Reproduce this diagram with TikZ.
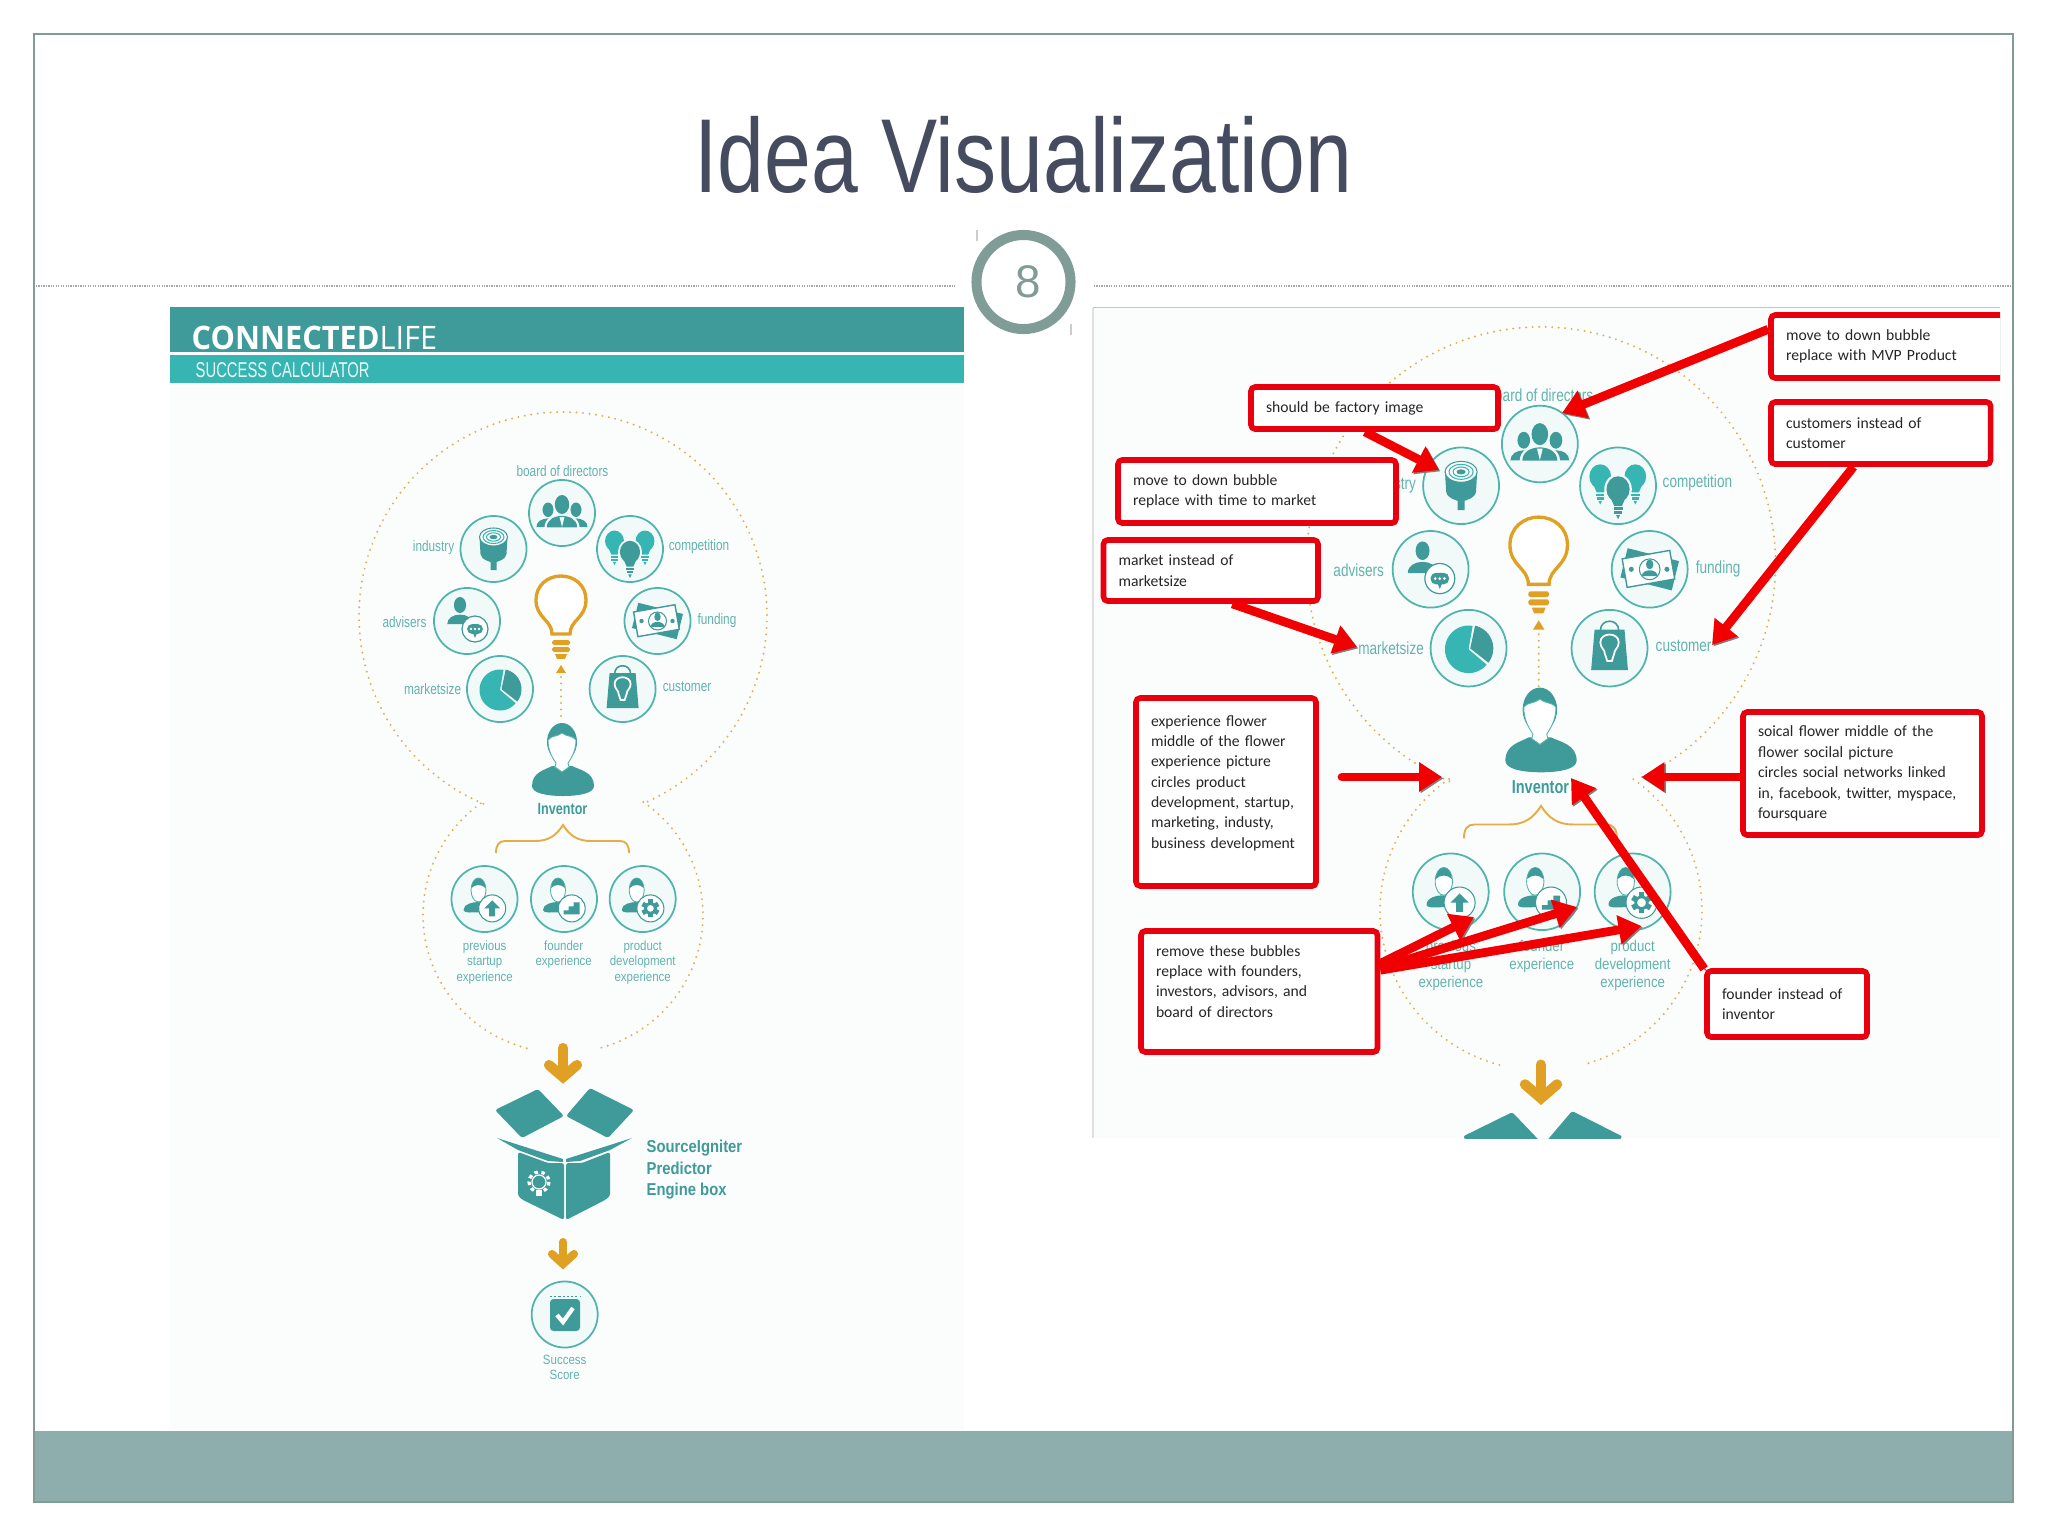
\documentclass[tikz,border=0pt]{standalone}
\usepackage{fontspec}
\setmainfont{Liberation Sans}
\newfontfamily\titlef[FakeStretch=0.8]{Liberation Sans}
\newfontfamily\labf[FakeStretch=0.78]{Liberation Sans}
\newfontfamily\lowf[FakeStretch=0.86]{Liberation Sans}
\newfontfamily\subf[FakeStretch=0.69]{Liberation Sans}
\newfontfamily\brandf[FakeStretch=0.95]{Open Sans}
\newfontfamily\callf{Carlito}
\usetikzlibrary{arrows.meta,shadows}
\definecolor{frameC}{HTML}{7F9C96}
\definecolor{bandC}{HTML}{8EADAD}
\definecolor{titleC}{HTML}{464C60}
\definecolor{tealD}{HTML}{3F9A9A}
\definecolor{tealM}{HTML}{36B5B2}
\definecolor{ringC}{HTML}{4FB5AB}
\definecolor{haloC}{HTML}{F2FAF9}
\definecolor{labC}{HTML}{62B3AD}
\definecolor{orangeC}{HTML}{E0A024}
\definecolor{dotC}{HTML}{D9B350}
\definecolor{panelC}{HTML}{FBFDFD}
\definecolor{redC}{HTML}{E8000E}
\definecolor{arrowC}{HTML}{F00000}
\tikzset{
  ring/.style={circle,draw=ringC,line width=.5pt,fill=haloC,minimum size=.66cm,inner sep=0pt},
  lab/.style={font=\labf\fontsize{4.3}{5.2}\selectfont,text=labC,inner sep=0pt},
  lowlab/.style={font=\lowf\fontsize{3.8}{4.4}\selectfont,text=labC,inner sep=0pt,align=center},
  dotline/.style={draw=dotC,dash pattern=on 0pt off 1.85pt,line cap=round,line width=.62pt},
  callout/.style={draw=redC,line width=1.6pt,rounded corners=1.2pt,fill=white,align=left,inner ysep=0pt,inner xsep=.15cm,
    text=black!85,font=\callf\fontsize{4.45}{5.8}\selectfont,
    drop shadow={shadow xshift=.5pt,shadow yshift=-.7pt,opacity=.6,fill=black}},
  redarrow/.style={draw=arrowC,line width=2.5pt,-{Triangle[length=6.5pt,width=8pt]},
    preaction={draw=black!50,transform canvas={xshift=.4pt,yshift=-.4pt}}},
}
\newcommand\icBust[4]{%
 \begin{scope}[shift={(#2,#3)},scale=#4]
  \fill[#1] (0,-5) ellipse (3.8 and 5);
  \fill[#1] (-8,7) .. controls (-8,3) and (-4,1) .. (0,1) .. controls (4,1) and (8,3) .. (8,7) -- cycle;
 \end{scope}}
\newcommand\icBulb[4]{%
 \begin{scope}[shift={(#2,#3)},scale=#4]
  \fill[#1] (0,0) ellipse (9 and 10);
  \fill[#1] (-6,6) -- (-3,13) -- (3,13) -- (6,6) -- cycle;
  \fill[#1] (-3.5,14) rectangle (3.5,16);
  \fill[#1] (-3,17) rectangle (3,19);
  \fill[#1] (-1.5,20) -- (1.5,20) -- (0,23) -- cycle;
 \end{scope}}
\newcommand\icExp[4]{%
 \node[ring] (#1) at (#2,#3) {};
 \begin{scope}[shift={(#2,#3)}]
  \fill[tealD] (-21,11) .. controls (-21,5) and (-12,3) .. (-6,3) .. controls (0,3) and (4,6) .. (4,13) -- (-15,13.5) .. controls (-18,13.5) and (-21,13) .. (-21,11) -- cycle;
  \draw[ringC,line width=.25pt,fill=white] (-6,-9) ellipse (7.5 and 12);
  \fill[tealD] (-13,-11) .. controls (-12,-24) and (0,-24) .. (1,-11) .. controls (-3,-15) and (-9,-15) .. (-13,-11) -- cycle;
  \draw[tealD,line width=.3pt,fill=white] (7.7,9.4) circle (13.5);
  \begin{scope}[shift={(7.7,9.4)}] #4 \end{scope}
 \end{scope}}
\newcommand\infog{%
 % dotted flower
 \draw[dotline] plot[domain=113:426,samples=120] ({563+204*cos(\x)},{616+204*sin(\x)});
 \draw[dotline] plot[domain=-55:75,samples=50] ({563+140*cos(\x)},{915+138*sin(\x)});
 \draw[dotline] plot[domain=105:236,samples=50] ({563+140*cos(\x)},{915+138*sin(\x)});
 % rings
 \node[ring] (board) at (562,513) {};
 \node[ring] (industry) at (493.5,549) {};
 \node[ring] (competition) at (630,549) {};
 \node[ring] (advisers) at (467,621) {};
 \node[ring] (funding) at (657.5,621) {};
 \node[ring] (marketsize) at (500,689) {};
 \node[ring] (customer) at (622.6,689) {};
 % board
 \icBust{tealD}{548}{517}{1.45}
 \icBust{tealD}{576}{517}{1.45}
 \begin{scope}[shift={(562,514)},scale=2]
  \fill[haloC] (0,-5) ellipse (4.5 and 5.6);
  \fill[haloC] (-8.8,7) .. controls (-8.8,2) and (-4,0) .. (0,0) .. controls (4,0) and (8.8,2) .. (8.8,7) -- cycle;
 \end{scope}
 \icBust{tealD}{562}{514}{1.9}
 \fill[haloC] (559.5,517) -- (564.5,517) -- (562,527) -- cycle;
 % industry
 \begin{scope}[shift={(493.5,549)}]
  \fill[tealD] (-14,-12) -- (-13,5) .. controls (-12,11) and (-5,12) .. (-3,13) -- (-3,21) -- (3,21) -- (3,13) .. controls (5,12) and (12,11) .. (13,5) -- (14,-12) -- cycle;
  \draw[tealD,line width=.3pt,fill=white] (0,-12) ellipse (14 and 9);
  \draw[tealM,line width=.3pt] (0,-12) ellipse (10.5 and 6.5);
  \draw[tealM,line width=.3pt] (0,-12) ellipse (7 and 4.2);
  \fill[tealD] (0,-12) ellipse (4 and 2.2);
 \end{scope}
 % competition
 \icBulb{tealM}{614.5}{541}{1.05}
 \icBulb{tealM}{645}{541}{1.05}
 \fill[haloC] (630,552) ellipse (12 and 13);
 \icBulb{tealD}{630}{552}{1.12}
 % advisers
 \icBust{tealD}{460}{613}{1.6}
 \draw[tealD,line width=.35pt,fill=white] (475,629) circle (13);
 \fill[tealD,rounded corners=1.5pt] (467,624) rectangle (483,634);
 \fill[tealD] (473,633) -- (477,633) -- (475,638) -- cycle;
 \fill[white] (471,629) circle (1.3) (475,629) circle (1.3) (479,629) circle (1.3);
 % funding
 \begin{scope}[shift={(657.5,621)}]
  \fill[tealD,rotate=-14] (-23,-13) rectangle (23,13);
  \draw[tealD,line width=.4pt,fill=white,rotate=10] (-22,-13) rectangle (20,12);
  \draw[tealD,line width=.3pt,fill=white] (0,0) circle (9);
  \icBust{tealD}{0}{0}{.85}
  \fill[tealD] (-16,0) circle (2.2) (15,0) circle (2.2);
 \end{scope}
 % market pie
 \begin{scope}[shift={(500,690)}]
  \fill[tealM] (0,0) -- plot[domain=40:280,samples=50] ({20.5*cos(\x)},{20.5*sin(\x)}) -- cycle;
  \fill[tealD] (1.5,-.8) -- plot[domain=-78:38,samples=30] ({1.5+20*cos(\x)},{-.8+20*sin(\x)}) -- cycle;
 \end{scope}
 % customer bag
 \begin{scope}[shift={(622.6,689)}]
  \draw[tealD,line width=.45pt] (-8,-15) .. controls (-8,-26) and (8,-26) .. (8,-15);
  \fill[tealD] (-13,-16) -- (13,-16) -- (16,19) -- (-16,19) -- cycle;
  \draw[white,line width=.5pt] (-4,5) .. controls (-4,1) and (-8,0) .. (-8,-5) .. controls (-8,-14) and (8,-14) .. (8,-5) .. controls (8,0) and (4,1) .. (4,5) -- (2,11) -- (-2,11) -- cycle;
 \end{scope}
 % big bulb
 \draw[orangeC,line width=.95pt,fill=white] (552,634) .. controls (552,620) and (536,618) .. (536,600) .. controls (536,585) and (548,576) .. (561,576) .. controls (574,576) and (586,585) .. (586,600) .. controls (586,618) and (570,620) .. (570,634) -- cycle;
 \fill[orangeC,rounded corners=.5pt] (552,640) rectangle (570,645);
 \fill[orangeC,rounded corners=.5pt] (552,647) rectangle (570,652);
 \fill[orangeC] (555,654) -- (567,654) -- (565,659) -- (557,659) -- cycle;
 \fill[orangeC] (561,665) -- (556,673) -- (566,673) -- cycle;
 \draw[dotline] (561,677) -- (561,722);
 % inventor
 \fill[tealD] (532,786) .. controls (532,772) and (545,770) .. (552,766) -- (572,766) .. controls (580,770) and (594,772) .. (594,786) .. controls (594,793) and (580,796) .. (563,796) .. controls (546,796) and (532,793) .. (532,786) -- cycle;
 \fill[tealD] (562,742) ellipse (15 and 19);
 \draw[ringC,line width=.25pt,fill=white] (548,740) .. controls (552,735) and (557,737) .. (562,733) .. controls (567,737) and (572,735) .. (576,740) .. controls (576,752) and (570,760) .. (568,763) -- (569,767) -- (562,772) -- (555,767) -- (556,763) .. controls (554,760) and (548,752) .. (548,740) -- cycle;
 \node[font=\labf\bfseries\fontsize{4.6}{5.2}\selectfont,text=tealD,inner sep=0pt] (inventor) at (562.5,809) {Inventor};
 % brace
 \draw[orangeC!85!white,line width=.55pt] (496,853) .. controls (496,845) and (499,841) .. (505,841) -- (535,841) .. controls (548,841) and (556,836) .. (563,825) .. controls (570,836) and (578,841) .. (591,841) -- (620,841) .. controls (626,841) and (629,845) .. (629,853);
 % labels
 \node[lab] (l1) at (562.5,471) {board of directors};
 \node[lab] (l2) at (433.6,548) {industry};
 \node[lab] (l3) at (699,547) {competition};
 \node[lab] (l4) at (404.5,622) {advisers};
 \node[lab] (l5) at (717,620.5) {funding};
 \node[lab] (l6) at (432.6,689) {marketsize};
 \node[lab] (l7) at (687,687) {customer};
 % experience
 \icExp{prev}{484.5}{899}{\fill[tealD] (0,-8) -- (-8,0) -- (-3,0) -- (-3,8) -- (3,8) -- (3,0) -- (8,0) -- cycle;}
 \icExp{founder}{564}{899}{\fill[tealD] (-8,6) -- (-8,2) -- (-3,2) -- (-3,-2) -- (2,-2) -- (2,-6) -- (8,-6) -- (8,6) -- cycle;}
 \icExp{product}{642.7}{899}{\draw[tealD,line width=.8pt] (0,0) circle (5); \foreach \a in {0,60,...,300} {\fill[tealD,rotate=\a] (-2.4,-9) rectangle (2.4,-5);}}
 \node[lowlab,anchor=north] (t1) at (484.7,940) {previous\\startup\\experience};
 \node[lowlab,anchor=north] (t2) at (563.7,940) {founder\\experience};
 \node[lowlab,anchor=north] (t3) at (642.7,940) {product\\development\\experience};
 % arrows
 \draw[orangeC,line width=2.9pt,line cap=round] (563,1048) -- (563,1076);
 \draw[orangeC,line width=2.9pt,line cap=round,line join=miter] (549,1065) -- (563,1077) -- (577,1065);
 % box
 \fill[tealD,rounded corners=.7pt] (495,1110) -- (538,1089) -- (564,1116) -- (522,1138) -- cycle;
 \fill[tealD,rounded corners=.7pt] (566,1116) -- (590,1088) -- (634,1110) -- (608,1138) -- cycle;
 \fill[tealD] (497,1138) -- (563,1159) -- (563,1162) -- (548,1161) -- (518,1150) -- cycle;
 \fill[tealD] (632,1138) -- (566,1159) -- (566,1162) -- (580,1161) -- (610,1150) -- cycle;
 \fill[tealD,rounded corners=.7pt] (518,1152) -- (548,1163) -- (564,1163) -- (564,1220) -- (523,1200) -- (518,1196) -- cycle;
 \fill[tealD,rounded corners=.7pt] (566,1163) -- (582,1163) -- (610,1152) -- (610,1196) -- (605,1200) -- (566,1220) -- cycle;
 \draw[white,line width=.35pt] (539,1182) circle (7);
 \draw[white,line width=.9pt,dash pattern=on 1pt off 1pt] (539,1182) circle (10);
 \fill[white] (536,1190) rectangle (542,1196);
 \node[font=\lowf\bfseries\fontsize{4.9}{6.1}\selectfont,text=tealD,align=left,anchor=west,inner sep=0pt] (engine) at (646,1170) {SourceIgniter\\Predictor\\Engine box};
 \draw[orangeC,line width=2.3pt,line cap=round] (563,1242) -- (563,1262);
 \draw[orangeC,line width=2.3pt,line cap=round,line join=miter] (552,1254) -- (563,1264) -- (574,1254);
 \node[ring] (score) at (564.7,1314.5) {};
 \fill[tealD,rounded corners=1pt] (550,1299) rectangle (580,1331);
 \draw[white,line width=1.2pt] (557,1315) -- (563,1322) -- (573,1308);
 \draw[tealD,line width=.3pt,dash pattern=on .6pt off .6pt] (550,1296.5) -- (580,1296.5);
 \node[lowlab,anchor=north] (t4) at (564.7,1354) {Success\\Score};
}
\newcommand\cbox[6]{%
 \pgfmathsetlengthmacro\cbw{(#4-#2)*0.01cm}%
 \pgfmathsetlengthmacro\cbh{(#5-#3)*0.01cm}%
 \pgfmathsetlengthmacro\cbt{(#4-#2-30)*0.01cm}%
 \node[callout,minimum height=\cbh,text width=\cbt] (#1) at ({(#2+#4)/2},{(#3+#5)/2}) {#6};}
\begin{document}
\begin{tikzpicture}[x=0.01cm,y=-0.01cm]
\useasboundingbox (0,0) rectangle (2048,1536);
\fill[white] (0,0) rectangle (2048,1536);
% slide
\fill[bandC] (34,1431) rectangle (2013,1502);
\draw[frameC,line width=.55pt] (34,34) rectangle (2013,1502);
\node[font=\titlef\fontsize{29.9}{34}\selectfont,text=titleC,inner sep=0pt] (title) at (1023,155) {Idea Visualization};
\draw[gray!70,line width=.5pt,dash pattern=on .35pt off .35pt] (36,286) -- (955,286);
\draw[gray!70,line width=.5pt,dash pattern=on .35pt off .35pt] (1094,286) -- (2010,286);
% left panel
\fill[panelC] (170,307) rectangle (964,1430);
\fill[tealD] (170,307) rectangle (964,352);
\fill[tealM] (170,355) rectangle (964,383);
\node[anchor=base west,inner sep=0pt,text=white,font=\brandf\fontsize{9.2}{10}\selectfont] (brand) at (191,349) {\textbf{CONNECTED}LIFE};
\node[anchor=base west,inner sep=0pt,text=white!90!tealM,font=\subf\fontsize{6.1}{7}\selectfont] (brandsub) at (195,377) {SUCCESS CALCULATOR};
\begin{scope}[name prefix=L-]
\infog
\end{scope}
% page number
\draw[gray!40,line width=.3pt] (977,230) -- (977,241);
\draw[gray!40,line width=.3pt] (1071,324) -- (1071,335);
\node[circle,draw=frameC,line width=2.85pt,fill=white,minimum size=.94cm,inner sep=0pt,text=frameC,font=\fontsize{13}{14}\selectfont] (pagenum) at (1023.5,282) {\hspace*{.1cm}8};
% right panel
\fill[panelC] (1093,308) rectangle (2000,1138);
\draw[black!25!blue!25,line width=.4pt] (1093,307.5) -- (2000,307.5);
\draw[gray!25,line width=.3pt] (1093,308) -- (1093,1138);
\begin{scope}
\clip (1093,308) rectangle (2000,1138);
\begin{scope}[shift={(893.55,-151.08)},xscale=1.15,yscale=1.16,transform shape,name prefix=R-]
\infog
\end{scope}
\coordinate (a1e) at (1562,413);
\coordinate (a2e) at (1439,470);
\coordinate (a3e) at (1357,647);
\coordinate (a4e) at (1712,645);
\coordinate (a5s) at (1342,777);
\coordinate (a5e) at (1442,777);
\coordinate (a6s) at (1740,777);
\coordinate (a6e) at (1641.5,777);
\coordinate (a7e) at (1571,778);
\coordinate (a8e) at (1474,917);
\coordinate (a9e) at (1577,907);
\coordinate (a10e) at (1641.5,926);
\cbox{b1}{1771}{315}{2010}{378}{move to down bubble\\replace with MVP Product}
\cbox{b2}{1251}{387}{1498}{429}{should be factory image}
\cbox{b3}{1118}{460}{1396}{523}{move to down bubble\\replace with time to market}
\cbox{b4}{1103.5}{540}{1318}{601}{market instead of\\marketsize}
\cbox{b5}{1771}{402}{1990.6}{464}{customers instead of\\customer}
\cbox{b6}{1136}{698}{1316}{886}{experience flower\\middle of the flower\\experience picture\\circles product\\development, startup,\\marketing, industy,\\business development\\~}
\cbox{b7}{1743}{712}{1982}{835}{soical flower middle of the\\flower socilal picture\\circles social networks linked\\in, facebook, twitter, myspace,\\foursquare}
\cbox{b8}{1141}{931}{1377.5}{1052}{remove these bubbles\\replace with founders,\\investors, advisors, and\\board of directors\\~}
\cbox{b9}{1707}{971}{1867}{1037}{founder instead of\\inventor}
\draw[redarrow] (b1.172) -- (a1e);
\draw[redarrow] (b2.-112) -- (a2e);
\draw[redarrow] (b4.-57) -- (a3e);
\draw[redarrow] (b5.-129) -- (a4e);
\draw[redarrow,line cap=round] (a5s) -- (a5e);
\draw[redarrow,line cap=round] (a6s) -- (a6e);
\draw[redarrow] (b9.157.6) -- (a7e);
\draw[redarrow] (b8.13.6) -- (a8e);
\draw[redarrow] (b8.11.7) -- (a9e);
\draw[redarrow] (b8.10.3) -- (a10e);
\end{scope}
\end{tikzpicture}
\end{document}
